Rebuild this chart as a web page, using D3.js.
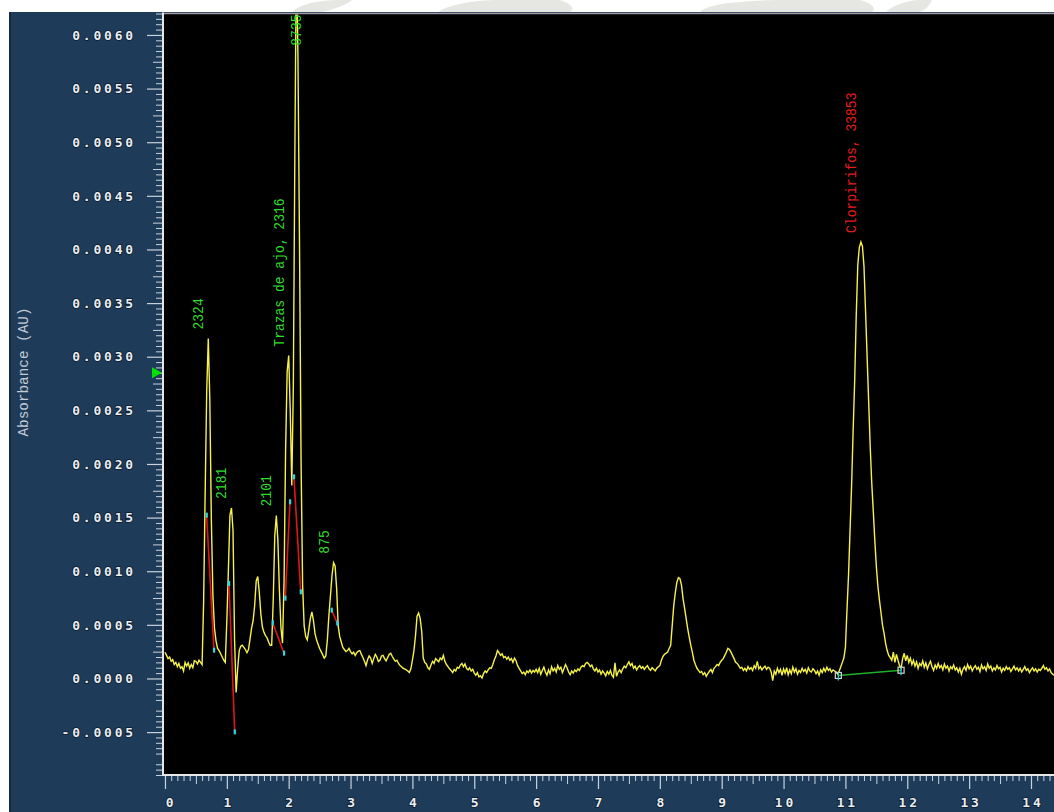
<!DOCTYPE html>
<html>
<head>
<meta charset="utf-8">
<script src="https://cdn.jsdelivr.net/npm/d3@7"></script>
<style>
  html, body { margin: 0; padding: 0; background: #ffffff; overflow: hidden; }
  svg { display: block; }
</style>
</head>
<body>
<svg id="chart" width="1054" height="812"></svg>
<script>
// ---- Chromatogram data (absorbance in µAU, one reading every 0.025 min) ----
const sampleInterval = 0.025;

const absorbance0to3 = [
  245, 215, 185, 200, 160, 175, 130, 150, 110, 140, 95, 110, 70, 150, 115, 145, 95, 130, 100, 165,
  160, 135, 170, 150, 130, 720, 1750, 2690, 3170, 2590, 1470, 770, 470, 350, 280, 260, 230, 200, 170, 150,
  540, 1010, 1520, 1590, 1380, 360, -130, 90, 260, 300, 310, 290, 270, 240, 270, 370, 470, 540, 680, 910,
  950, 800, 600, 480, 430, 400, 380, 340, 310, 310, 730, 1330, 1520, 1290, 820, 470, 330, 910, 2130, 2860,
  3010, 2500, 1800, 2730, 4930, 6800, 5770, 4040, 2030, 870, 490, 390, 360, 450, 560, 620, 540, 420, 360, 320,
  280, 250, 220, 190, 210, 360, 590, 770, 960, 1080, 1050, 840, 490, 390, 340, 290, 270, 250, 260, 280
];

const absorbance3to8 = [
  250, 230, 245, 215, 240, 255, 260, 225, 195, 160, 120, 175, 210, 190, 140, 185, 225, 200, 160, 170,
  210, 215, 185, 165, 195, 225, 235, 205, 180, 160, 170, 140, 120, 110, 95, 90, 80, 70, 55, 90,
  170, 260, 400, 580, 610, 560, 440, 190, 150, 135, 100, 85, 125, 160, 140, 185, 170, 155, 190, 175,
  215, 160, 130, 110, 90, 75, 55, 85, 70, 105, 95, 125, 140, 110, 135, 95, 80, 100, 70, 85,
  50, 30, 55, 15, 25, 5, 45, 70, 55, 80, 100, 95, 130, 175, 210, 260, 240, 215, 230, 195,
  205, 180, 200, 170, 185, 150, 190, 165, 120, 95, 70, 45, 60, 35, 70, 55, 80, 50, 75, 60,
  85, 55, 95, 40, 75, 105, 60, 30, 80, 45, 110, 70, 95, 60, 120, 85, 105, 55, 90, 130,
  100, 60, 35, 70, 50, 80, 65, 90, 75, 105, 120, 110, 140, 150, 135, 110, 125, 90, 70, 95,
  60, 80, 40, 70, 50, 25, 65, 40, 75, 30, 10, 145, 20, 60, 80, 55, 90, 115, 100, 130,
  155, 120, 140, 95, 115, 80, 105, 120, 95, 110, 85, 105, 120, 90, 75, 100, 85, 70, 95, 110
];

const absorbance8to14 = [
  120, 170, 205, 225, 235, 245, 280, 310, 495, 680, 800, 895, 940, 930, 870, 745, 655, 560, 465, 385,
  310, 245, 170, 130, 95, 75, 55, 65, 35, 55, 20, 45, 65, 85, 55, 95, 110, 130, 120, 150,
  170, 185, 215, 245, 280, 270, 245, 215, 185, 150, 140, 120, 95, 105, 75, 95, 70, 110, 85, 100,
  75, 120, 95, 160, 90, 110, 80, 100, 115, 85, 105, 95, 60, -20, 70, 40, 95, 55, 85, 30,
  90, 50, 100, 35, 80, 45, 105, 60, 90, 40, 75, 55, 95, 65, 85, 50, 100, 70, 60, 90,
  75, 45, 70, 30, 80, 55, 95, 65, 105, 75, 90, 60, 80, 70, 60, 40, 70, 110, 150, 190,
  290, 635, 960, 1380, 1800, 2315, 2780, 3385, 3855, 4020, 4070, 4030, 3845, 3435, 3015, 2595, 2175, 1830, 1565, 1290,
  1045, 860, 730, 615, 495, 420, 325, 260, 215, 195, 170, 245, 150, 225, 170, 120, 95, 185, 235, 165,
  215, 150, 190, 130, 170, 115, 155, 95, 140, 120, 165, 105, 145, 90, 130, 160, 110, 75, 125, 95,
  140, 100, 120, 80, 135, 95, 115, 70, 110, 90, 125, 80, 100, 60, 95, 40, 85, 110, 75, 130,
  90, 115, 70, 100, 120, 85, 105, 65, 125, 90, 110, 75, 135, 95, 115, 70, 100, 80, 120, 90,
  105, 60, 95, 75, 110, 85, 100, 65, 90, 115, 80, 100, 70, 95, 60, 85, 110, 75, 90, 55,
  80, 100, 70, 90, 60, 85, 75, 95, 120, 85, 100, 70, 90, 55, 40, 30
];

// Integrated peaks: apex retention time (min) and result label
const peakApexRt = [0.70, 1.075, 1.80, 2.00, 2.125, 2.725, 11.25];
const peakLabels = ["2324", "2181", "2101", "Trazas de ajo, 2316", "8735", "875", "Clorpirifos, 33853"];
const calibratedCompounds = ["Clorpirifos"];

// Integration marks drawn by the processing method: [rt start, µAU start, rt end, µAU end]
const integrationMarks = [
  [0.673, 1523, 0.792, 264],
  [1.035, 886, 1.127, -498],
  [1.741, 519, 1.924, 236],
  [2.021, 1647, 1.945, 749],
  [2.085, 1880, 2.194, 808],
  [2.694, 637, 2.785, 516]
];

// Baseline drawn under the Clorpirifos peak: start / end (rt, µAU)
const baselineStart = [10.885, 28];
const baselineEnd = [11.90, 77];

// Threshold marker on the absorbance axis (AU)
const thresholdMarker = 0.00285;

// Axis ticks
const xTickValues = d3.range(0, 15);
const yTickValues = d3.range(-1, 13).map(v => v * 0.0005);

// ---- Layout ----
const svg = d3.select("#chart");
const W = 1054, H = 812;
const plot = { left: 163, right: 1054, top: 13.5, bottom: 775 };

const x = d3.scaleLinear().domain([-0.032, 14.372]).range([plot.left, plot.right]);
const y = d3.scaleLinear().domain([-0.0009, 0.0062]).range([plot.bottom, plot.top]);

const absorbance = [...absorbance0to3, ...absorbance3to8, ...absorbance8to14];
const trace = absorbance.map((a, i) => ({ rt: i * sampleInterval, au: a * 1e-6 }));

// faint watermark shapes above the panel
const wm = svg.append("g").attr("fill", "#e6e6e2");
wm.append("path").attr("d", "M292,12 C300,4 318,0 340,0 L352,0 C345,6 330,10 322,12 Z");
wm.append("path").attr("d", "M438,12 C446,6 470,0 500,0 L560,0 C572,4 575,9 570,12 Z");
wm.append("path").attr("d", "M700,12 C706,4 740,0 790,0 L860,0 C874,4 876,9 872,12 Z");
wm.append("path").attr("d", "M886,12 C892,6 905,1 918,0 L932,0 C930,5 925,10 920,12 Z");

// dark panel behind the axes
svg.append("rect").attr("x", 9).attr("y", 12).attr("width", W - 9).attr("height", H - 12).attr("fill", "#1f3b5a");
svg.append("rect").attr("x", 9).attr("y", 12).attr("width", 2).attr("height", H - 12).attr("fill", "#132a42");

// plot area
svg.append("rect").attr("x", plot.left).attr("y", plot.top).attr("width", plot.right - plot.left).attr("height", plot.bottom - plot.top).attr("fill", "#000000");

svg.append("defs").append("clipPath").attr("id", "plotClip")
  .append("rect").attr("x", plot.left + 1).attr("y", plot.top + 1)
  .attr("width", plot.right - plot.left).attr("height", plot.bottom - plot.top - 2);

const tickColor = "#c9d2db";
const labelFont = "'DejaVu Sans Mono', monospace";

function styleTickText(sel, dx) {
  sel.attr("fill", "#e8eef4").attr("font-family", labelFont).attr("font-weight", "bold")
    .attr("font-size", 13).attr("letter-spacing", 2.8)
    .attr("stroke", "#0c1a29").attr("stroke-width", 1.6).attr("paint-order", "stroke")
    .attr("dx", dx);
}

// ---- Y axis ----
const yMinor = d3.range(-18, 125).map(v => v * 0.00005);
svg.append("g")
  .attr("transform", `translate(${plot.left},0)`)
  .call(d3.axisLeft(y).tickValues(yMinor.filter(v => Math.round(v / 0.00005) % 5 !== 0)).tickSize(7).tickFormat(""))
  .call(g => g.select(".domain").remove())
  .call(g => g.selectAll("line").attr("stroke", tickColor));
svg.append("g")
  .attr("transform", `translate(${plot.left},0)`)
  .call(d3.axisLeft(y).tickValues(yMinor.filter(v => Math.round(v / 0.00005) % 10 === 5)).tickSize(10).tickFormat(""))
  .call(g => g.select(".domain").remove())
  .call(g => g.selectAll("line").attr("stroke", tickColor));

svg.append("g")
  .attr("transform", `translate(${plot.left},0)`)
  .call(d3.axisLeft(y).tickValues(yTickValues).tickSize(16).tickPadding(11)
        .tickFormat(d => d3.format(".4f")(d).replace("−", "-")))
  .call(g => g.select(".domain").remove())
  .call(g => g.selectAll("line").attr("stroke", tickColor).attr("stroke-width", 1.2))
  .call(g => styleTickText(g.selectAll("text"), 0));

// ---- X axis ----
const xMinor = d3.range(0, 144).map(v => v / 10).filter(v => v <= 14.37);
svg.append("g")
  .attr("transform", `translate(0,${plot.bottom})`)
  .call(d3.axisBottom(x).tickValues(xMinor.filter(v => Math.round(v * 10) % 10 !== 0 && Math.round(v * 10) % 5 !== 0)).tickSize(6).tickFormat(""))
  .call(g => g.select(".domain").remove())
  .call(g => g.selectAll("line").attr("stroke", tickColor));
svg.append("g")
  .attr("transform", `translate(0,${plot.bottom})`)
  .call(d3.axisBottom(x).tickValues(xMinor.filter(v => Math.round(v * 10) % 10 === 5)).tickSize(9).tickFormat(""))
  .call(g => g.select(".domain").remove())
  .call(g => g.selectAll("line").attr("stroke", tickColor));
svg.append("g")
  .attr("transform", `translate(0,${plot.bottom})`)
  .call(d3.axisBottom(x).tickValues(xTickValues).tickSize(14).tickPadding(9).tickFormat(d3.format("d")))
  .call(g => g.select(".domain").remove())
  .call(g => g.selectAll("line").attr("stroke", tickColor).attr("stroke-width", 1.2))
  .call(g => styleTickText(g.selectAll("text"), 0))
  .call(g => g.selectAll("text").attr("dx", d => d === 0 ? 5.5 : 1.4));

// axis title
svg.append("text")
  .attr("transform", "translate(28,372) rotate(-90)")
  .attr("text-anchor", "middle")
  .attr("font-family", "'Liberation Mono', monospace")
  .attr("font-size", 14)
  .attr("textLength", 129).attr("lengthAdjust", "spacingAndGlyphs")
  .attr("fill", "#c3ccd6")
  .text("Absorbance (AU)");

// plot frame lines
svg.append("line").attr("x1", plot.left).attr("x2", plot.right).attr("y1", plot.top).attr("y2", plot.top)
  .attr("stroke", "#9a9a9a").attr("stroke-width", 1.5);
svg.append("line").attr("x1", plot.left).attr("x2", plot.left).attr("y1", plot.top - 1).attr("y2", plot.bottom + 1)
  .attr("stroke", "#e6e6e6").attr("stroke-width", 2);
svg.append("line").attr("x1", plot.left - 1).attr("x2", plot.right).attr("y1", plot.bottom).attr("y2", plot.bottom)
  .attr("stroke", "#e6e6e6").attr("stroke-width", 2);

// threshold marker
const ty = y(thresholdMarker);
svg.append("path")
  .attr("d", `M${plot.left - 11},${ty - 5.5} L${plot.left - 1},${ty} L${plot.left - 11},${ty + 5.5} Z`)
  .attr("fill", "#00e100");

// ---- Trace ----
const body = svg.append("g").attr("clip-path", "url(#plotClip)");

const line = d3.line().x(d => x(d.rt)).y(d => y(d.au));
body.append("path")
  .datum(trace)
  .attr("d", line)
  .attr("fill", "none")
  .attr("stroke", "#f6f24a")
  .attr("stroke-width", 1.4)
  .attr("stroke-linejoin", "miter");

// integration marks
integrationMarks.forEach(([t0, a0, t1, a1]) => {
  body.append("line")
    .attr("x1", x(t0)).attr("y1", y(a0 * 1e-6)).attr("x2", x(t1)).attr("y2", y(a1 * 1e-6))
    .attr("stroke", "#e0151a").attr("stroke-width", 1.6);
  [[t0, a0], [t1, a1]].forEach(([t, a]) => {
    body.append("rect")
      .attr("x", x(t) - 1).attr("y", y(a * 1e-6) - 2.5).attr("width", 2.2).attr("height", 5)
      .attr("fill", "#2fd6e6");
  });
});

// Clorpirifos baseline with its end markers
body.append("line")
  .attr("x1", x(baselineStart[0])).attr("y1", y(baselineStart[1] * 1e-6))
  .attr("x2", x(baselineEnd[0])).attr("y2", y(baselineEnd[1] * 1e-6))
  .attr("stroke", "#22b02a").attr("stroke-width", 1.5);
[baselineStart, baselineEnd].forEach(([t, a]) => {
  const cx = x(t), cy = y(a * 1e-6);
  body.append("rect").attr("x", cx - 3).attr("y", cy - 3).attr("width", 6).attr("height", 6)
    .attr("fill", "none").attr("stroke", "#d8d8d8").attr("stroke-width", 1.2);
  body.append("line").attr("x1", cx).attr("x2", cx).attr("y1", cy - 3).attr("y2", cy + 5)
    .attr("stroke", "#2fd6e6").attr("stroke-width", 1.2);
});

// peak labels
const labelG = svg.append("g");
peakApexRt.forEach((rt, i) => {
  const text = peakLabels[i];
  const apex = absorbance[Math.round(rt / sampleInterval)] * 1e-6;
  const ax = x(rt), ay = y(apex);
  const len = text.length * 7.8;
  let bx, by;
  if (ay < plot.top) {      // off-scale peak: label pinned to the top edge
    bx = ax + 5;
    by = plot.top + 1 + len;
  } else {
    bx = ax - 5;
    by = ay - 9;
  }
  const named = calibratedCompounds.some(c => text.startsWith(c));
  labelG.append("text")
    .attr("transform", `translate(${bx},${by}) rotate(-90)`)
    .attr("font-family", "'Liberation Mono', monospace")
    .attr("font-size", 15)
    .attr("textLength", len).attr("lengthAdjust", "spacingAndGlyphs")
    .attr("fill", named ? "#e41c1c" : "#2fdc2f")
    .text(text);
});
</script>
</body>
</html>
